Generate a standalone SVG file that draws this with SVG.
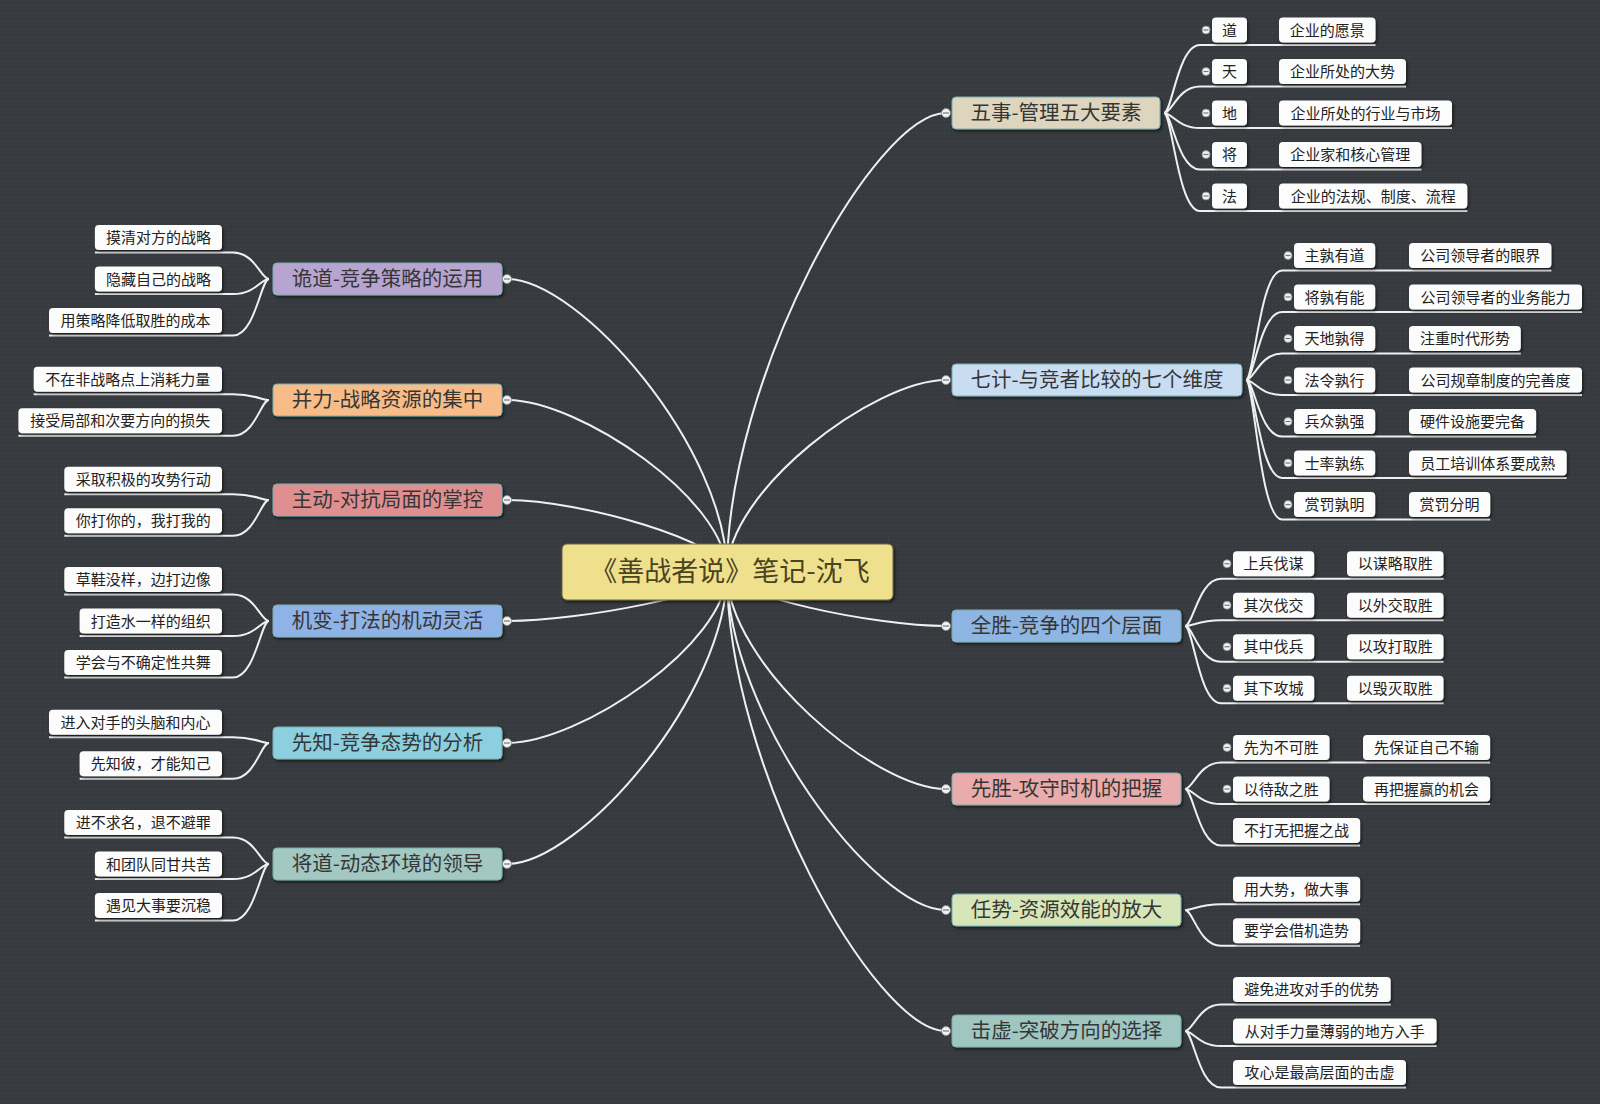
<svg xmlns="http://www.w3.org/2000/svg" width="1600" height="1104" viewBox="0 0 1600 1104">
<defs>
<pattern id="grid" width="4" height="4" patternUnits="userSpaceOnUse">
<rect width="4" height="4" fill="#373b3f"/>
<rect width="1" height="1" fill="#42464b"/>
</pattern>
<filter id="sh" x="-10%" y="-20%" width="130%" height="160%">
<feDropShadow dx="1.5" dy="2" stdDeviation="1.5" flood-color="#000" flood-opacity="0.55"/>
</filter>
<style>
text{font-family:"Noto Sans CJK SC","Noto Sans",sans-serif;text-anchor:middle}
.topic rect{stroke:#78aeb0;stroke-width:1;filter:url(#sh)}
.topic text{font-size:20.5px;fill:#363636}
.leaf rect{fill:#fcfcfc;filter:url(#sh)}
.leaf text{font-size:15px;fill:#222}
.conn path{fill:none;stroke:#f0f0f0;stroke-width:2}
.btn circle{fill:#f2f2f2;stroke:#8a8a8a;stroke-width:0.8}
.btn line{stroke:#777;stroke-width:1.2}
</style>
</defs>
<rect width="1600" height="1104" fill="url(#grid)"/>

<g id="connectors" class="conn">
<path d="M727,572 C727,379 874,113 946,113"/>
<path d="M727,572 C727,491 874,380 946,380"/>
<path d="M727,572 C727,595 874,626 946,626"/>
<path d="M727,572 C727,663 874,789 946,789"/>
<path d="M727,572 C727,714 874,910 946,910"/>
<path d="M727,572 C727,765 874,1031 946,1031"/>
<path d="M727,572 C727,449 580,279 507,279"/>
<path d="M727,572 C727,500 580,400 507,400"/>
<path d="M727,572 C727,542 580,500 507,500"/>
<path d="M727,572 C727,593 580,621 507,621"/>
<path d="M727,572 C727,644 580,743 507,743"/>
<path d="M727,572 C727,695 580,864 507,864"/>
<path d="M1164,113 C1172,113 1178,45 1200,45 L1375.5,45"/>
<path d="M1164,113 C1172,113 1178,86.5 1200,86.5 L1406,86.5"/>
<path d="M1164,113 C1172,113 1178,128 1200,128 L1452,128"/>
<path d="M1164,113 C1172,113 1178,169.5 1200,169.5 L1421.4,169.5"/>
<path d="M1164,113 C1172,113 1178,211 1200,211 L1467.3,211"/>
<path d="M1246,380 C1254,380 1260,270.5 1282,270.5 L1551.4,270.5"/>
<path d="M1246,380 C1254,380 1260,312 1282,312 L1582,312"/>
<path d="M1246,380 C1254,380 1260,353.5 1282,353.5 L1520.8,353.5"/>
<path d="M1246,380 C1254,380 1260,395 1282,395 L1582,395"/>
<path d="M1246,380 C1254,380 1260,436.5 1282,436.5 L1536.1,436.5"/>
<path d="M1246,380 C1254,380 1260,478 1282,478 L1566.7,478"/>
<path d="M1246,380 C1254,380 1260,519.5 1282,519.5 L1490.2,519.5"/>
<path d="M1185,626 C1193,626 1199,578.75 1221,578.75 L1443.5,578.75"/>
<path d="M1185,626 C1193,626 1199,620.25 1221,620.25 L1443.5,620.25"/>
<path d="M1185,626 C1193,626 1199,661.75 1221,661.75 L1443.5,661.75"/>
<path d="M1185,626 C1193,626 1199,703.25 1221,703.25 L1443.5,703.25"/>
<path d="M1185,789 C1193,789 1199,762.5 1221,762.5 L1490.1,762.5"/>
<path d="M1185,789 C1193,789 1199,804 1221,804 L1490.1,804"/>
<path d="M1185,789 C1193,789 1199,845.5 1221,845.5 L1360.1,845.5"/>
<path d="M1185,910 C1193,910 1199,904.25 1221,904.25 L1360.1,904.25"/>
<path d="M1185,910 C1193,910 1199,945.75 1221,945.75 L1360.1,945.75"/>
<path d="M1185,1031 C1193,1031 1199,1004.5 1221,1004.5 L1390.7,1004.5"/>
<path d="M1185,1031 C1193,1031 1199,1046 1221,1046 L1436.6,1046"/>
<path d="M1185,1031 C1193,1031 1199,1087.5 1221,1087.5 L1406,1087.5"/>
<path d="M269,279 C261,279 255,252.5 233,252.5 L94.9,252.5"/>
<path d="M269,279 C261,279 255,294 233,294 L94.9,294"/>
<path d="M269,279 C261,279 255,335.5 233,335.5 L49,335.5"/>
<path d="M269,400 C261,400 255,394.25 233,394.25 L33.7,394.25"/>
<path d="M269,400 C261,400 255,435.75 233,435.75 L18.4,435.75"/>
<path d="M269,500 C261,500 255,494.25 233,494.25 L64.3,494.25"/>
<path d="M269,500 C261,500 255,535.75 233,535.75 L64.3,535.75"/>
<path d="M269,621 C261,621 255,594.5 233,594.5 L64.3,594.5"/>
<path d="M269,621 C261,621 255,636 233,636 L79.6,636"/>
<path d="M269,621 C261,621 255,677.5 233,677.5 L64.3,677.5"/>
<path d="M269,743 C261,743 255,737.25 233,737.25 L49,737.25"/>
<path d="M269,743 C261,743 255,778.75 233,778.75 L79.6,778.75"/>
<path d="M269,864 C261,864 255,837.5 233,837.5 L64.3,837.5"/>
<path d="M269,864 C261,864 255,879 233,879 L94.9,879"/>
<path d="M269,864 C261,864 255,920.5 233,920.5 L94.9,920.5"/>
</g>

<g id="center">
<rect x="562" y="544" width="331" height="56" rx="5" fill="#efe08e" stroke="#6a6440" stroke-width="1" filter="url(#sh)"/>
<text x="730" y="581" style="font-size:27px;fill:#4a4420">《善战者说》笔记-沈飞</text>
</g>

<g id="t-wushi" class="topic"><rect x="952" y="97" width="208" height="32" rx="4" fill="#ddd5bd"/><text x="1056" y="120">五事-管理五大要素</text></g>
<g id="t-qiji" class="topic"><rect x="952" y="364" width="290" height="32" rx="4" fill="#c8dcf2"/><text x="1097" y="387">七计-与竞者比较的七个维度</text></g>
<g id="t-quansheng" class="topic"><rect x="952" y="610" width="229" height="32" rx="4" fill="#8fb5e3"/><text x="1066.5" y="633">全胜-竞争的四个层面</text></g>
<g id="t-xiansheng" class="topic"><rect x="952" y="773" width="229" height="32" rx="4" fill="#e9abab"/><text x="1066.5" y="796">先胜-攻守时机的把握</text></g>
<g id="t-renshi" class="topic"><rect x="952" y="894" width="229" height="32" rx="4" fill="#d7e6b8"/><text x="1066.5" y="917">任势-资源效能的放大</text></g>
<g id="t-jixu" class="topic"><rect x="952" y="1015" width="229" height="32" rx="4" fill="#9fc6c1"/><text x="1066.5" y="1038">击虚-突破方向的选择</text></g>

<g id="t-guidao" class="topic"><rect x="273" y="263" width="229" height="32" rx="4" fill="#b7a4d0"/><text x="387.5" y="286">诡道-竞争策略的运用</text></g>
<g id="t-bingli" class="topic"><rect x="273" y="384" width="229" height="32" rx="4" fill="#f8bc88"/><text x="387.5" y="407">并力-战略资源的集中</text></g>
<g id="t-zhudong" class="topic"><rect x="273" y="484" width="229" height="32" rx="4" fill="#df8f90"/><text x="387.5" y="507">主动-对抗局面的掌控</text></g>
<g id="t-jibian" class="topic"><rect x="273" y="605" width="229" height="32" rx="4" fill="#8fb3e6"/><text x="387.5" y="628">机变-打法的机动灵活</text></g>
<g id="t-xianzhi" class="topic"><rect x="273" y="727" width="229" height="32" rx="4" fill="#8ccfde"/><text x="387.5" y="750">先知-竞争态势的分析</text></g>
<g id="t-jiangdao" class="topic"><rect x="273" y="848" width="229" height="32" rx="4" fill="#a3c8c1"/><text x="387.5" y="871">将道-动态环境的领导</text></g>

<g id="topic-buttons" class="btn">
<circle cx="946" cy="113" r="4.5"/><line x1="943" y1="113" x2="949" y2="113"/>
<circle cx="946" cy="380" r="4.5"/><line x1="943" y1="380" x2="949" y2="380"/>
<circle cx="946" cy="626" r="4.5"/><line x1="943" y1="626" x2="949" y2="626"/>
<circle cx="946" cy="789" r="4.5"/><line x1="943" y1="789" x2="949" y2="789"/>
<circle cx="946" cy="910" r="4.5"/><line x1="943" y1="910" x2="949" y2="910"/>
<circle cx="946" cy="1031" r="4.5"/><line x1="943" y1="1031" x2="949" y2="1031"/>
<circle cx="507" cy="279" r="4.5"/><line x1="504" y1="279" x2="510" y2="279"/>
<circle cx="507" cy="400" r="4.5"/><line x1="504" y1="400" x2="510" y2="400"/>
<circle cx="507" cy="500" r="4.5"/><line x1="504" y1="500" x2="510" y2="500"/>
<circle cx="507" cy="621" r="4.5"/><line x1="504" y1="621" x2="510" y2="621"/>
<circle cx="507" cy="743" r="4.5"/><line x1="504" y1="743" x2="510" y2="743"/>
<circle cx="507" cy="864" r="4.5"/><line x1="504" y1="864" x2="510" y2="864"/>
</g>

<g id="l-dao" class="leaf"><rect x="1212" y="17.5" width="35" height="25" rx="4"/><text x="1229.5" y="35.5">道</text></g>
<g id="l-dao-c" class="leaf"><rect x="1279" y="17.5" width="96.5" height="25" rx="4"/><text x="1327.25" y="35.5">企业的愿景</text></g>
<g id="l-tian" class="leaf"><rect x="1212" y="59" width="35" height="25" rx="4"/><text x="1229.5" y="77">天</text></g>
<g id="l-tian-c" class="leaf"><rect x="1279" y="59" width="127" height="25" rx="4"/><text x="1342.5" y="77">企业所处的大势</text></g>
<g id="l-di" class="leaf"><rect x="1212" y="100.5" width="35" height="25" rx="4"/><text x="1229.5" y="118.5">地</text></g>
<g id="l-di-c" class="leaf"><rect x="1279" y="100.5" width="173" height="25" rx="4"/><text x="1365.5" y="118.5">企业所处的行业与市场</text></g>
<g id="l-jiang" class="leaf"><rect x="1212" y="142" width="35" height="25" rx="4"/><text x="1229.5" y="160">将</text></g>
<g id="l-jiang-c" class="leaf"><rect x="1279" y="142" width="142.4" height="25" rx="4"/><text x="1350.2" y="160">企业家和核心管理</text></g>
<g id="l-fa" class="leaf"><rect x="1212" y="183.5" width="35" height="25" rx="4"/><text x="1229.5" y="201.5">法</text></g>
<g id="l-fa-c" class="leaf"><rect x="1279" y="183.5" width="188.3" height="25" rx="4"/><text x="1373.15" y="201.5">企业的法规、制度、流程</text></g>

<g id="l-q1" class="leaf"><rect x="1294" y="243" width="81.2" height="25" rx="4"/><text x="1334.6" y="261">主孰有道</text></g>
<g id="l-q1-c" class="leaf"><rect x="1409" y="243" width="142.4" height="25" rx="4"/><text x="1480.2" y="261">公司领导者的眼界</text></g>
<g id="l-q2" class="leaf"><rect x="1294" y="284.5" width="81.2" height="25" rx="4"/><text x="1334.6" y="302.5">将孰有能</text></g>
<g id="l-q2-c" class="leaf"><rect x="1409" y="284.5" width="173" height="25" rx="4"/><text x="1495.5" y="302.5">公司领导者的业务能力</text></g>
<g id="l-q3" class="leaf"><rect x="1294" y="326" width="81.2" height="25" rx="4"/><text x="1334.6" y="344">天地孰得</text></g>
<g id="l-q3-c" class="leaf"><rect x="1409" y="326" width="111.8" height="25" rx="4"/><text x="1464.9" y="344">注重时代形势</text></g>
<g id="l-q4" class="leaf"><rect x="1294" y="367.5" width="81.2" height="25" rx="4"/><text x="1334.6" y="385.5">法令孰行</text></g>
<g id="l-q4-c" class="leaf"><rect x="1409" y="367.5" width="173" height="25" rx="4"/><text x="1495.5" y="385.5">公司规章制度的完善度</text></g>
<g id="l-q5" class="leaf"><rect x="1294" y="409" width="81.2" height="25" rx="4"/><text x="1334.6" y="427">兵众孰强</text></g>
<g id="l-q5-c" class="leaf"><rect x="1409" y="409" width="127.1" height="25" rx="4"/><text x="1472.55" y="427">硬件设施要完备</text></g>
<g id="l-q6" class="leaf"><rect x="1294" y="450.5" width="81.2" height="25" rx="4"/><text x="1334.6" y="468.5">士率孰练</text></g>
<g id="l-q6-c" class="leaf"><rect x="1409" y="450.5" width="157.7" height="25" rx="4"/><text x="1487.85" y="468.5">员工培训体系要成熟</text></g>
<g id="l-q7" class="leaf"><rect x="1294" y="492" width="81.2" height="25" rx="4"/><text x="1334.6" y="510">赏罚孰明</text></g>
<g id="l-q7-c" class="leaf"><rect x="1409" y="492" width="81.2" height="25" rx="4"/><text x="1449.6" y="510">赏罚分明</text></g>

<g id="l-s1" class="leaf"><rect x="1233" y="551.25" width="81.2" height="25" rx="4"/><text x="1273.6" y="569.25">上兵伐谋</text></g>
<g id="l-s1-c" class="leaf"><rect x="1347" y="551.25" width="96.5" height="25" rx="4"/><text x="1395.25" y="569.25">以谋略取胜</text></g>
<g id="l-s2" class="leaf"><rect x="1233" y="592.75" width="81.2" height="25" rx="4"/><text x="1273.6" y="610.75">其次伐交</text></g>
<g id="l-s2-c" class="leaf"><rect x="1347" y="592.75" width="96.5" height="25" rx="4"/><text x="1395.25" y="610.75">以外交取胜</text></g>
<g id="l-s3" class="leaf"><rect x="1233" y="634.25" width="81.2" height="25" rx="4"/><text x="1273.6" y="652.25">其中伐兵</text></g>
<g id="l-s3-c" class="leaf"><rect x="1347" y="634.25" width="96.5" height="25" rx="4"/><text x="1395.25" y="652.25">以攻打取胜</text></g>
<g id="l-s4" class="leaf"><rect x="1233" y="675.75" width="81.2" height="25" rx="4"/><text x="1273.6" y="693.75">其下攻城</text></g>
<g id="l-s4-c" class="leaf"><rect x="1347" y="675.75" width="96.5" height="25" rx="4"/><text x="1395.25" y="693.75">以毁灭取胜</text></g>

<g id="l-x1" class="leaf"><rect x="1233" y="735" width="96.5" height="25" rx="4"/><text x="1281.25" y="753">先为不可胜</text></g>
<g id="l-x1-c" class="leaf"><rect x="1363" y="735" width="127.1" height="25" rx="4"/><text x="1426.55" y="753">先保证自己不输</text></g>
<g id="l-x2" class="leaf"><rect x="1233" y="776.5" width="96.5" height="25" rx="4"/><text x="1281.25" y="794.5">以待敌之胜</text></g>
<g id="l-x2-c" class="leaf"><rect x="1363" y="776.5" width="127.1" height="25" rx="4"/><text x="1426.55" y="794.5">再把握赢的机会</text></g>
<g id="l-x3" class="leaf"><rect x="1233" y="818" width="127.1" height="25" rx="4"/><text x="1296.55" y="836">不打无把握之战</text></g>

<g id="l-r1" class="leaf"><rect x="1233" y="876.75" width="127.1" height="25" rx="4"/><text x="1296.55" y="894.75">用大势，做大事</text></g>
<g id="l-r2" class="leaf"><rect x="1233" y="918.25" width="127.1" height="25" rx="4"/><text x="1296.55" y="936.25">要学会借机造势</text></g>

<g id="l-j1" class="leaf"><rect x="1233" y="977" width="157.7" height="25" rx="4"/><text x="1311.85" y="995">避免进攻对手的优势</text></g>
<g id="l-j2" class="leaf"><rect x="1233" y="1018.5" width="203.6" height="25" rx="4"/><text x="1334.8" y="1036.5">从对手力量薄弱的地方入手</text></g>
<g id="l-j3" class="leaf"><rect x="1233" y="1060" width="173" height="25" rx="4"/><text x="1319.5" y="1078">攻心是最高层面的击虚</text></g>

<g id="l-g1" class="leaf"><rect x="94.9" y="225" width="127.1" height="25" rx="4"/><text x="158.45" y="243">摸清对方的战略</text></g>
<g id="l-g2" class="leaf"><rect x="94.9" y="266.5" width="127.1" height="25" rx="4"/><text x="158.45" y="284.5">隐藏自己的战略</text></g>
<g id="l-g3" class="leaf"><rect x="49" y="308" width="173" height="25" rx="4"/><text x="135.5" y="326">用策略降低取胜的成本</text></g>

<g id="l-b1" class="leaf"><rect x="33.7" y="366.75" width="188.3" height="25" rx="4"/><text x="127.85" y="384.75">不在非战略点上消耗力量</text></g>
<g id="l-b2" class="leaf"><rect x="18.4" y="408.25" width="203.6" height="25" rx="4"/><text x="120.2" y="426.25">接受局部和次要方向的损失</text></g>

<g id="l-z1" class="leaf"><rect x="64.3" y="466.75" width="157.7" height="25" rx="4"/><text x="143.15" y="484.75">采取积极的攻势行动</text></g>
<g id="l-z2" class="leaf"><rect x="64.3" y="508.25" width="157.7" height="25" rx="4"/><text x="143.15" y="526.25">你打你的，我打我的</text></g>

<g id="l-jb1" class="leaf"><rect x="64.3" y="567" width="157.7" height="25" rx="4"/><text x="143.15" y="585">草鞋没样，边打边像</text></g>
<g id="l-jb2" class="leaf"><rect x="79.6" y="608.5" width="142.4" height="25" rx="4"/><text x="150.8" y="626.5">打造水一样的组织</text></g>
<g id="l-jb3" class="leaf"><rect x="64.3" y="650" width="157.7" height="25" rx="4"/><text x="143.15" y="668">学会与不确定性共舞</text></g>

<g id="l-xz1" class="leaf"><rect x="49" y="709.75" width="173" height="25" rx="4"/><text x="135.5" y="727.75">进入对手的头脑和内心</text></g>
<g id="l-xz2" class="leaf"><rect x="79.6" y="751.25" width="142.4" height="25" rx="4"/><text x="150.8" y="769.25">先知彼，才能知己</text></g>

<g id="l-jd1" class="leaf"><rect x="64.3" y="810" width="157.7" height="25" rx="4"/><text x="143.15" y="828">进不求名，退不避罪</text></g>
<g id="l-jd2" class="leaf"><rect x="94.9" y="851.5" width="127.1" height="25" rx="4"/><text x="158.45" y="869.5">和团队同甘共苦</text></g>
<g id="l-jd3" class="leaf"><rect x="94.9" y="893" width="127.1" height="25" rx="4"/><text x="158.45" y="911">遇见大事要沉稳</text></g>

<g id="leaf-buttons" class="btn">
<circle cx="1206" cy="30" r="4"/><line x1="1203.5" y1="30" x2="1208.5" y2="30"/>
<circle cx="1206" cy="71.5" r="4"/><line x1="1203.5" y1="71.5" x2="1208.5" y2="71.5"/>
<circle cx="1206" cy="113" r="4"/><line x1="1203.5" y1="113" x2="1208.5" y2="113"/>
<circle cx="1206" cy="154.5" r="4"/><line x1="1203.5" y1="154.5" x2="1208.5" y2="154.5"/>
<circle cx="1206" cy="196" r="4"/><line x1="1203.5" y1="196" x2="1208.5" y2="196"/>
<circle cx="1288" cy="255.5" r="4"/><line x1="1285.5" y1="255.5" x2="1290.5" y2="255.5"/>
<circle cx="1288" cy="297" r="4"/><line x1="1285.5" y1="297" x2="1290.5" y2="297"/>
<circle cx="1288" cy="338.5" r="4"/><line x1="1285.5" y1="338.5" x2="1290.5" y2="338.5"/>
<circle cx="1288" cy="380" r="4"/><line x1="1285.5" y1="380" x2="1290.5" y2="380"/>
<circle cx="1288" cy="421.5" r="4"/><line x1="1285.5" y1="421.5" x2="1290.5" y2="421.5"/>
<circle cx="1288" cy="463" r="4"/><line x1="1285.5" y1="463" x2="1290.5" y2="463"/>
<circle cx="1288" cy="504.5" r="4"/><line x1="1285.5" y1="504.5" x2="1290.5" y2="504.5"/>
<circle cx="1227" cy="563.75" r="4"/><line x1="1224.5" y1="563.75" x2="1229.5" y2="563.75"/>
<circle cx="1227" cy="605.25" r="4"/><line x1="1224.5" y1="605.25" x2="1229.5" y2="605.25"/>
<circle cx="1227" cy="646.75" r="4"/><line x1="1224.5" y1="646.75" x2="1229.5" y2="646.75"/>
<circle cx="1227" cy="688.25" r="4"/><line x1="1224.5" y1="688.25" x2="1229.5" y2="688.25"/>
<circle cx="1227" cy="747.5" r="4"/><line x1="1224.5" y1="747.5" x2="1229.5" y2="747.5"/>
<circle cx="1227" cy="789" r="4"/><line x1="1224.5" y1="789" x2="1229.5" y2="789"/>
</g>
</svg>
